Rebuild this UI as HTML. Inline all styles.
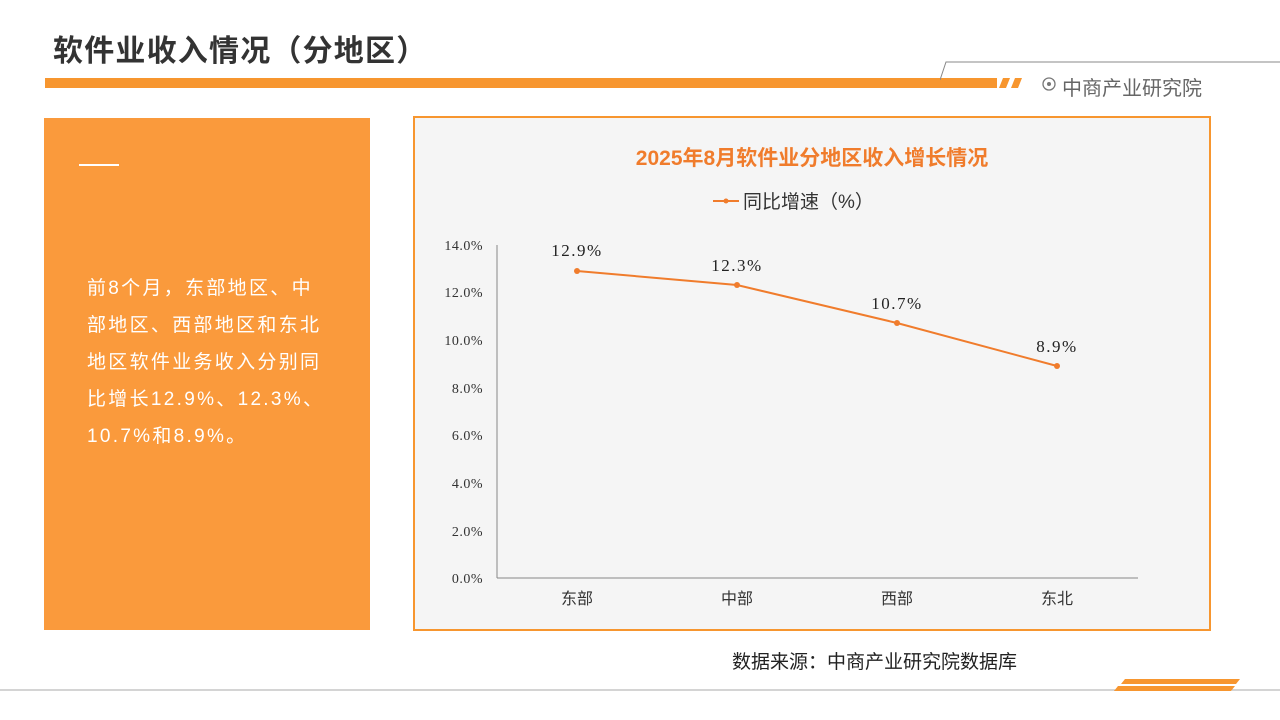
<!DOCTYPE html>
<html><head><meta charset="utf-8"><style>
body{margin:0;width:1280px;height:720px;background:#fff;position:relative;overflow:hidden;font-family:"Liberation Sans","Noto Sans CJK SC",sans-serif}
.a{position:absolute}
</style></head><body>
<div class="a" style="left:53px;top:26px;font-size:30px;font-weight:bold;color:#333;letter-spacing:1.2px">软件业收入情况（分地区）</div>
<div class="a" style="left:45px;top:78px;width:952px;height:10px;background:#f7962f"></div>
<svg class="a" style="left:940px;top:58px" width="340" height="40">
<polyline points="0,22 6,4 340,4" fill="none" stroke="#888" stroke-width="1"/>
<polygon points="63,20 70,20 66,30 59,30" fill="#f7962f"/>
<polygon points="75,20 82,20 78,30 71,30" fill="#f7962f"/>
<circle cx="109" cy="26" r="6" fill="none" stroke="#777" stroke-width="1.3"/><circle cx="109" cy="26" r="2" fill="#777"/>
</svg>
<div class="a" style="left:1062px;top:72px;font-size:20px;color:#666">中商产业研究院</div>
<div class="a" style="left:44px;top:118px;width:326px;height:512px;background:#fa9a3c"></div>
<div class="a" style="left:79px;top:164px;width:40px;height:2px;background:#fff"></div>
<div class="a" style="left:87px;top:270px;width:280px;font-size:19px;line-height:37px;color:#fff;white-space:nowrap;letter-spacing:2.3px">前8个月，东部地区、中<br>部地区、西部地区和东北<br>地区软件业务收入分别同<br>比增长12.9%、12.3%、<br>10.7%和8.9%。</div>
<div class="a" style="left:413px;top:116px;width:794px;height:511px;border:2px solid #f7962f;background:#f5f5f5"></div>
<div class="a" style="left:413px;top:142px;width:798px;text-align:center;font-size:21px;font-weight:bold;color:#f07c2c">2025年8月软件业分地区收入增长情况</div>
<svg class="a" style="left:0;top:0" width="1280" height="720" font-family="Liberation Serif,Noto Serif CJK SC,serif">
<line x1="713" y1="201" x2="739" y2="201" stroke="#f07c2c" stroke-width="2"/><circle cx="726" cy="201" r="2.5" fill="#f07c2c"/>
<text x="743" y="208" font-size="19" fill="#333" font-family="Liberation Sans,Noto Sans CJK SC,sans-serif">同比增速（%）</text>
<line x1="497" y1="245" x2="497" y2="578" stroke="#888"/>
<line x1="497" y1="578" x2="1138" y2="578" stroke="#888"/>
<g font-size="14" fill="#333" text-anchor="end" letter-spacing="0.5">
<text x="483" y="250">14.0%</text><text x="483" y="297">12.0%</text><text x="483" y="345">10.0%</text><text x="483" y="393">8.0%</text><text x="483" y="440">6.0%</text><text x="483" y="488">4.0%</text><text x="483" y="536">2.0%</text><text x="483" y="583">0.0%</text>
</g>
<polyline points="577,271 737,285 897,323 1057,366" fill="none" stroke="#f07c2c" stroke-width="2"/>
<g fill="#f07c2c"><circle cx="577" cy="271" r="3"/><circle cx="737" cy="285" r="3"/><circle cx="897" cy="323" r="3"/><circle cx="1057" cy="366" r="3"/></g>
<g font-size="17" fill="#222" text-anchor="middle" letter-spacing="1.5">
<text x="577" y="256">12.9%</text><text x="737" y="271">12.3%</text><text x="897" y="309">10.7%</text><text x="1057" y="352">8.9%</text>
</g>
<g font-size="16" fill="#333" text-anchor="middle" font-family="Liberation Sans,Noto Sans CJK SC,sans-serif">
<text x="577" y="604">东部</text><text x="737" y="604">中部</text><text x="897" y="604">西部</text><text x="1057" y="604">东北</text>
</g>
<line x1="0" y1="690" x2="1280" y2="690" stroke="#aaa"/>
<polygon points="1125,679 1240,679 1236,684 1121,684" fill="#f7962f"/>
<polygon points="1118,686 1235,686 1231,691 1114,691" fill="#f7962f"/>
</svg>
<div class="a" style="left:732px;top:647px;font-size:19px;color:#222">数据来源：中商产业研究院数据库</div>
</body></html>
